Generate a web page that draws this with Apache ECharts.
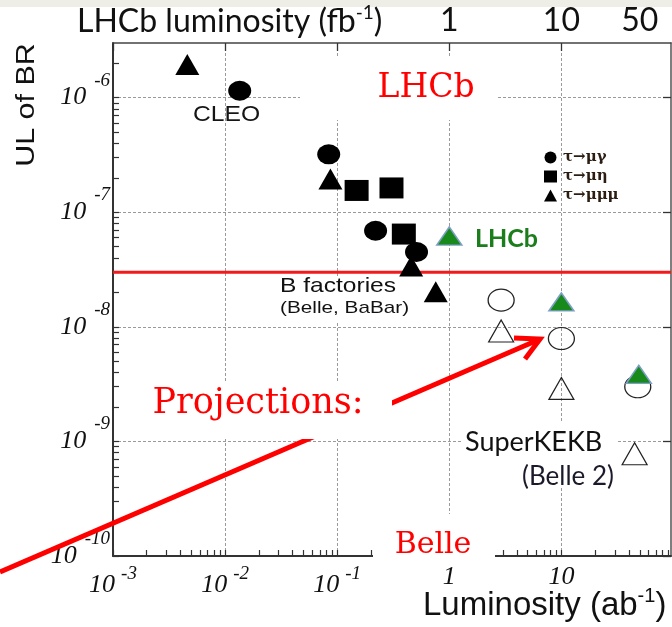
<!DOCTYPE html>
<html><head><meta charset="utf-8">
<script src="https://cdn.jsdelivr.net/npm/echarts@6/dist/echarts.min.js"></script>
<style>html,body{margin:0;padding:0;background:#fff}#c{width:672px;height:627px}</style>
</head><body><div id="c"></div>
<script>
// ---- data (luminosity in ab^-1, upper limit of BR) ----
const tauMuGammaX = [0.0135, 0.084, 0.22, 0.51];
const tauMuGammaY = [1.15e-6, 3.2e-7, 6.9e-8, 4.5e-8];
const tauMuEtaX = [0.149, 0.305, 0.393];
const tauMuEtaY = [1.55e-7, 1.63e-7, 6.45e-8];
const tauMuMuMuX = [0.0046, 0.087, 0.457, 0.757];
const tauMuMuMuY = [1.95e-6, 1.95e-7, 3.4e-8, 2.02e-8];
const projCircleX = [2.9, 10, 48];
const projCircleY = [1.71e-8, 7.9e-9, 3.0e-9];
const projTriangleX = [2.9, 10, 45];
const projTriangleY = [9.2e-9, 2.9e-9, 7.8e-10];
const lhcbX = [1.0, 10, 49];
const lhcbY = [6.2e-8, 1.65e-8, 3.85e-9];
const bFactoryLimit = 3.0e-8;
const seriesNames = ['τ→μγ', 'τ→μη', 'τ→μμμ'];
const xMajorTicks = [0.001, 0.01, 0.1, 1, 10];
const yMajorTicks = [1e-10, 1e-9, 1e-8, 1e-7, 1e-6];
const topTickLabels = [1, 10, 50];
const minorMultipliers = [2, 3, 4, 5, 6, 7, 8, 9];
const X_MIN = 1e-3, X_MAX = 95, Y_MIN = 1e-10, Y_MAX = 3e-6;

function pairs(xs, ys) { return xs.map((x, i) => [x, ys[i]]); }
function minors(decades, lo, hi) {
  const out = [];
  decades.forEach(d => minorMultipliers.forEach(m => { const v = d * m; if (v > lo && v < hi) out.push(v); }));
  return out;
}
const xAllTicks = xMajorTicks.concat(minors(xMajorTicks, X_MIN, X_MAX));
const yAllTicks = yMajorTicks.concat(minors(yMajorTicks, Y_MIN, Y_MAX));
function expOf(v) { return Math.round(Math.log10(v)); }

const serif = 'Liberation Serif';
const xRich = {
  b: {fontFamily: serif, fontStyle: 'italic', fontSize: 26, color: '#111'},
  e: {fontFamily: serif, fontStyle: 'italic', fontSize: 19, color: '#111', padding: [0, 0, 24, 6]}
};
const yRich = {
  b: {fontFamily: serif, fontStyle: 'italic', fontSize: 26, color: '#111'},
  e: {fontFamily: serif, fontStyle: 'italic', fontSize: 19, color: '#111', padding: [0, 0, 34, 8]}
};
const gridLine = {show: true, lineStyle: {color: '#9a9a9a', width: 1, type: [3, 2]}};

function axis(isX, pos, extra) {
  return Object.assign({
    type: 'log', logBase: 10, min: isX ? X_MIN : Y_MIN, max: isX ? X_MAX : Y_MAX, position: pos,
    axisLine: {show: true, onZero: false, lineStyle: {color: '#333', width: 2}},
    axisLabel: {show: false}, splitLine: {show: false}
  }, extra);
}
// bottom/left carry all (major + minor) ticks; top/right carry major ticks and the dotted grid
const allTicks = vals => ({show: true, inside: true, length: 6, customValues: vals, lineStyle: {color: '#333', width: 1.2}});
const majorTicks = vals => ({show: true, inside: true, length: 8, customValues: vals, lineStyle: {color: '#333', width: 1.3}});

const option = {
  animation: false,
  backgroundColor: '#fff',
  grid: {left: 113, right: 1, top: 43, bottom: 71},
  xAxis: [
    axis(true, 'bottom', {
      axisTick: allTicks(xAllTicks),
      axisLabel: {show: true, customValues: xMajorTicks, margin: 8, rich: xRich,
        formatter: v => { const e = expOf(v); if (e === 0) return '{b|1}'; if (e === 1) return '{b|10}'; return '{b|10}{e|' + e + '}'; }}
    }),
    axis(true, 'top', {
      axisLine: {show: true, onZero: false, lineStyle: {color: '#444', width: 1.5}},
      axisTick: majorTicks(xMajorTicks),
      axisLabel: {show: true, customValues: topTickLabels, margin: 6, fontFamily: 'Lato', fontSize: 32, color: '#111'},
      splitLine: Object.assign({}, gridLine)
    })
  ],
  yAxis: [
    axis(false, 'left', {
      axisTick: allTicks(yAllTicks),
      axisLabel: {show: true, customValues: yMajorTicks, margin: 3, rich: yRich,
        formatter: v => '{b|10}{e|' + expOf(v) + '}'}
    }),
    axis(false, 'right', {
      axisLine: {show: true, onZero: false, lineStyle: {color: '#555', width: 1.5}},
      axisTick: majorTicks(yMajorTicks),
      splitLine: Object.assign({}, gridLine)
    })
  ],
  legend: {
    data: seriesNames, orient: 'vertical', left: 539, top: 145,
    itemWidth: 13, itemHeight: 12, itemGap: 4,
    textStyle: {fontFamily: 'DejaVu Serif', fontWeight: 'bold', fontSize: 15, color: '#2b1d12', padding: [0, 0, 0, 1]}
  },
  series: [
    {name: 'B factories limit', type: 'line', z: 1.5, symbol: 'none', silent: true,
     data: [[X_MIN, bFactoryLimit], [X_MAX, bFactoryLimit]],
     lineStyle: {color: '#f21a1a', width: 3}},
    {name: seriesNames[0], type: 'scatter', z: 3, symbol: 'circle', symbolSize: [23, 20],
     itemStyle: {color: '#000', opacity: 1}, data: pairs(tauMuGammaX, tauMuGammaY)},
    {name: seriesNames[1], type: 'scatter', z: 3, symbol: 'rect', symbolSize: [24, 21],
     itemStyle: {color: '#000', opacity: 1}, data: pairs(tauMuEtaX, tauMuEtaY)},
    {name: seriesNames[2], type: 'scatter', z: 3, symbol: 'triangle', symbolSize: [24, 21],
     itemStyle: {color: '#000', opacity: 1}, data: pairs(tauMuMuMuX, tauMuMuMuY)},
    {name: 'Belle II projection τ→μγ', type: 'scatter', z: 3, symbol: 'circle', symbolSize: [26, 22],
     itemStyle: {color: 'rgba(0,0,0,0)', borderColor: '#222', borderWidth: 1.2, opacity: 1}, data: pairs(projCircleX, projCircleY)},
    {name: 'Belle II projection τ→μμμ', type: 'scatter', z: 3, symbol: 'triangle', symbolSize: [25, 22],
     itemStyle: {color: 'rgba(0,0,0,0)', borderColor: '#222', borderWidth: 1.2, opacity: 1}, data: pairs(projTriangleX, projTriangleY)},
    {name: 'LHCb τ→μμμ', type: 'scatter', z: 3, symbol: 'triangle', symbolSize: [25, 18],
     itemStyle: {color: '#188a1c', borderColor: '#7d9fc4', borderWidth: 1.5, opacity: 1}, data: pairs(lhcbX, lhcbY)}
  ],
  graphic: [
    {type: 'rect', z: 0, shape: {x: 0, y: 0, width: 672, height: 7}, style: {fill: '#eeeee7'}},
    // white masks behind annotation text
    {type: 'rect', z: 1, shape: {x: 300, y: 58, width: 196, height: 62}, style: {fill: '#fff'}},
    {type: 'rect', z: 1, shape: {x: 276, y: 276, width: 130, height: 45}, style: {fill: '#fff'}},
    {type: 'rect', z: 1, shape: {x: 462, y: 422, width: 154, height: 64}, style: {fill: '#fff'}},
    {type: 'rect', z: 1, shape: {x: 373, y: 514, width: 122, height: 48}, style: {fill: '#fff'}},
    // arrow
    {type: 'line', z: 4, shape: {x1: 0, y1: 572, x2: 538, y2: 340}, style: {stroke: '#ff0000', lineWidth: 5}},
    {type: 'polyline', z: 4, shape: {points: [[514, 338], [540, 339], [525, 359]]}, style: {stroke: '#ff0000', lineWidth: 5, fill: null}},
    {type: 'rect', z: 5, shape: {x: 148, y: 382, width: 244, height: 57}, style: {fill: '#fff'}},
    // texts
    {type: 'text', z: 6, x: 426, y: 88, style: {text: 'LHCb', fontFamily: 'DejaVu Serif', fontSize: 33, fill: '#ff0000', align: 'center', verticalAlign: 'middle'}},
    {type: 'text', z: 6, x: 258, y: 404, style: {text: 'Projections:', fontFamily: 'DejaVu Serif', fontSize: 35, fill: '#ff0000', align: 'center', verticalAlign: 'middle'}},
    {type: 'text', z: 6, x: 433, y: 545, style: {text: 'Belle', fontFamily: 'DejaVu Serif', fontSize: 30, fill: '#ff0000', align: 'center', verticalAlign: 'middle'}},
    {type: 'text', z: 6, x: 193, y: 115, scaleX: 1.12, style: {text: 'CLEO', fontFamily: 'Liberation Sans', fontSize: 22, fill: '#151515', align: 'left', verticalAlign: 'middle'}},
    {type: 'text', z: 6, x: 475, y: 239, style: {text: 'LHCb', fontFamily: 'Lato', fontWeight: 'bold', fontSize: 25, fill: '#1b7d1b', align: 'left', verticalAlign: 'middle'}},
    {type: 'text', z: 6, x: 280, y: 286, scaleX: 1.17, style: {text: 'B factories', fontFamily: 'Liberation Sans', fontSize: 21, fill: '#111', align: 'left', verticalAlign: 'middle'}},
    {type: 'text', z: 6, x: 280, y: 308, scaleX: 1.22, style: {text: '(Belle, BaBar)', fontFamily: 'Liberation Sans', fontSize: 17, fill: '#111', align: 'left', verticalAlign: 'middle'}},
    {type: 'text', z: 6, x: 465, y: 442, style: {text: 'SuperKEKB', fontFamily: 'Lato', fontSize: 27, fill: '#111', align: 'left', verticalAlign: 'middle'}},
    {type: 'text', z: 6, x: 614, y: 477, style: {text: '(Belle 2)', fontFamily: 'Lato', fontSize: 26, fill: '#1a1a2a', align: 'right', verticalAlign: 'middle'}},
    {type: 'text', z: 6, x: 27, y: 105, rotation: Math.PI / 2, scaleX: 1.22, style: {text: 'UL of BR', fontFamily: 'Liberation Sans', fontSize: 25, fill: '#111', align: 'center', verticalAlign: 'middle'}},
    {type: 'text', z: 6, x: 423, y: 606, style: {text: 'Luminosity (ab{s|-1})', fontFamily: 'Liberation Sans', fontSize: 33, fill: '#111', align: 'left', verticalAlign: 'middle',
      rich: {s: {fontFamily: 'Liberation Sans', fontSize: 20, color: '#111', padding: [0, 0, 20, 0]}}}},
    {type: 'text', z: 6, x: 77, y: 22, style: {text: 'LHCb luminosity (fb{s|-1})', fontFamily: 'Lato', fontSize: 32, fill: '#111', align: 'left', verticalAlign: 'middle',
      rich: {s: {fontFamily: 'Lato', fontSize: 19, color: '#111', padding: [0, 0, 18, 0]}}}}
  ]
};
const chart = echarts.init(document.getElementById('c'));
chart.setOption(option);
</script></body></html>
